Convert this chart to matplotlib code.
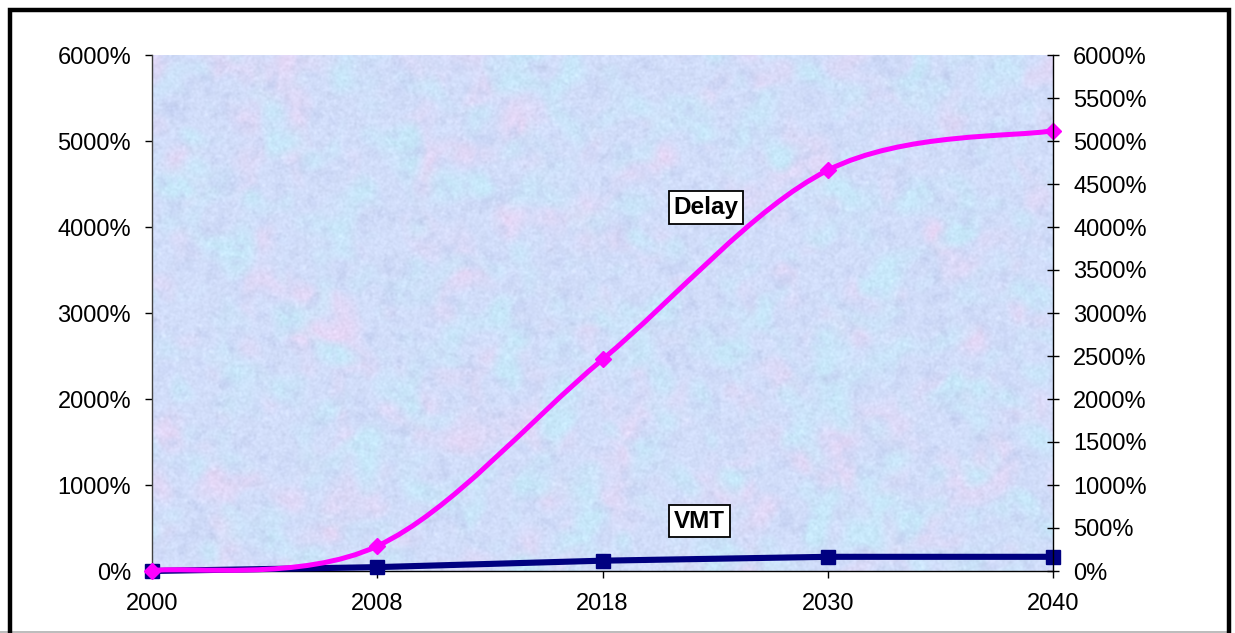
import numpy as np
import matplotlib
matplotlib.use("Agg")
import matplotlib.pyplot as plt
from matplotlib.path import Path
from matplotlib.patches import PathPatch, Rectangle
from matplotlib.lines import Line2D
from matplotlib.ticker import FuncFormatter

plt.rcParams['font.family'] = ['Liberation Sans', 'DejaVu Sans']

# ---- data ----
years = ["2000", "2008", "2018", "2030", "2040"]
delay = [5, 290, 2460, 4660, 5120]
vmt = [0, 45, 120, 165, 165]
left_ticks = [0, 1000, 2000, 3000, 4000, 5000, 6000]
right_ticks = [0, 500, 1000, 1500, 2000, 2500, 3000, 3500, 4000, 4500, 5000, 5500, 6000]

W, H = 1235, 633
fig = plt.figure(figsize=(W / 100, H / 100), dpi=100)
fig.patch.set_facecolor("white")

ax_l, ax_r, ax_b, ax_t = 152, 1053, 571, 55
ax = fig.add_axes([ax_l / W, 1 - ax_b / H, (ax_r - ax_l) / W, (ax_b - ax_t) / H])

xs = np.arange(len(years))
ax.set_xlim(0, len(years) - 1)
ax.set_ylim(0, 6000)

# ---- textured background ----
rng = np.random.default_rng(11)
hh, ww = ax_b - ax_t, ax_r - ax_l

def smooth_noise(sigma):
    n = rng.standard_normal((hh, ww))
    fy = np.fft.fftfreq(hh)[:, None]
    fx = np.fft.fftfreq(ww)[None, :]
    g = np.exp(-2 * (np.pi ** 2) * sigma ** 2 * (fx ** 2 + fy ** 2))
    out = np.real(np.fft.ifft2(np.fft.fft2(n) * g))
    out = (out - out.mean()) / (out.std() + 1e-9)
    return out

pink = np.clip(smooth_noise(10) * 0.35, 0, 1)
cyan = np.clip(smooth_noise(9) * 0.4 + 0.1, 0, 1)
dark = np.clip(smooth_noise(3.5) * 0.2, 0, 1)
fine = smooth_noise(1.0) * 3

base = np.array([210, 222, 250], float)
c_pink = np.array([230, 215, 246], float)
c_cyan = np.array([200, 232, 250], float)
c_dark = np.array([194, 206, 240], float)
img = base[None, None, :] * np.ones((hh, ww, 1))
img = img + pink[..., None] * (c_pink - base)
img = img + cyan[..., None] * (c_cyan - img)
img = img + dark[..., None] * (c_dark - img)
img = img + fine[..., None]
img = np.clip(img, 0, 255) / 255.0
ax.imshow(img, extent=[0, len(years) - 1, 0, 6000], aspect='auto', zorder=0,
          interpolation='bilinear')

# ---- smoothed curve (Bezier, Excel-like) ----
def smooth_path(x, y):
    pts = np.column_stack([x, y]).astype(float)
    n = len(pts)
    verts = [pts[0]]
    codes = [Path.MOVETO]
    for i in range(n - 1):
        p0 = pts[max(i - 1, 0)]
        p1 = pts[i]
        p2 = pts[i + 1]
        p3 = pts[min(i + 2, n - 1)]
        c1 = p1 + (p2 - p0) / 6.0
        c2 = p2 - (p3 - p1) / 6.0
        verts += [c1, c2, p2]
        codes += [Path.CURVE4] * 3
    return Path(verts, codes)

navy = "#000080"
mag = "#FF00FF"

ax.plot(xs, vmt, color=navy, lw=4.4, marker='s', markersize=10,
        markeredgecolor=navy, markerfacecolor=navy, zorder=3, clip_on=False)

ax.add_patch(PathPatch(smooth_path(xs, delay), facecolor='none', edgecolor=mag,
                       lw=3.6, zorder=4, capstyle='round', clip_on=False))
ax.plot(xs, delay, linestyle='none', marker='D', markersize=8.5,
        markeredgecolor=mag, markerfacecolor=mag, zorder=5, clip_on=False)

# ---- labels ----
box = dict(boxstyle='square,pad=0.2', facecolor='white', edgecolor='black', lw=1.3)
ax.text(2.46, 4230, "Delay", ha='center', va='center', fontsize=17.5,
        fontweight='bold', bbox=box, zorder=6)
ax.text(2.43, 580, "VMT", ha='center', va='center', fontsize=17.5,
        fontweight='bold', bbox=box, zorder=6)

# ---- axes styling ----
pct = FuncFormatter(lambda v, p: f"{int(round(v))}%")
ax.set_xticks(xs)
ax.set_xticklabels(years)
ax.set_yticks(left_ticks)
ax.yaxis.set_major_formatter(pct)
for s in ['top', 'right']:
    ax.spines[s].set_visible(False)
ax.spines['left'].set_color('#404040')
ax.spines['bottom'].set_color('black')
ax.spines['left'].set_linewidth(1.0)
ax.spines['bottom'].set_linewidth(1.0)
ax.tick_params(axis='y', direction='out', length=5, width=1, pad=10,
               labelsize=17, colors='black')
ax.tick_params(axis='x', direction='out', length=5, width=1, pad=11,
               labelsize=17, colors='black')

ax2 = ax.twinx()
ax2.set_ylim(0, 6000)
ax2.set_yticks(right_ticks)
ax2.yaxis.set_major_formatter(pct)
for s in ['top', 'left', 'bottom']:
    ax2.spines[s].set_visible(False)
ax2.spines['right'].set_color('black')
ax2.spines['right'].set_linewidth(1.0)
ax2.tick_params(axis='y', direction='inout', length=9, width=1, pad=10,
                labelsize=17, colors='black')

# ---- outer frame ----
fig.add_artist(Rectangle((9.5 / W, -0.05), (1228.5 - 9.5) / W, 1.05 - 9.5 / H,
                         transform=fig.transFigure, fill=False,
                         edgecolor='black', lw=3.2, zorder=10))
fig.add_artist(Line2D([0, 1228 / W], [1 - 631.5 / H, 1 - 631.5 / H],
                      transform=fig.transFigure, color='#b0b0b0', lw=1.2, zorder=9))

fig.savefig("out.png", dpi=100, facecolor="white")
